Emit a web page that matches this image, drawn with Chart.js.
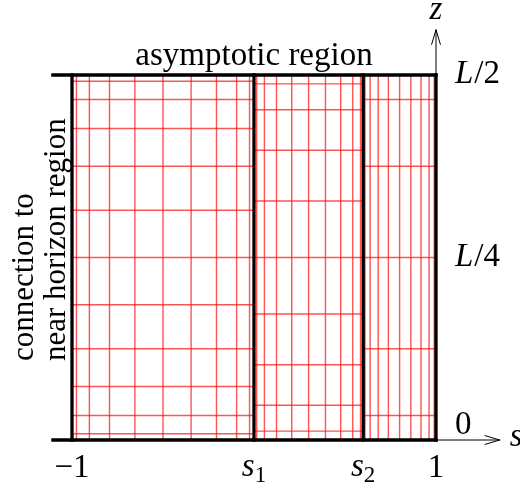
<!DOCTYPE html>
<html>
<head>
<meta charset="utf-8">
<script src="https://cdn.jsdelivr.net/npm/chart.js@4.4.1/dist/chart.umd.min.js"></script>
<style>
  html, body { margin: 0; padding: 0; background: #fff; }
  canvas { display: block; }
</style>
</head>
<body>
<canvas id="grid_chart" width="520" height="488"></canvas>
<script>
// block edges along s: -1, s1, s2, 1
const blockEdges = [-1, 0, 0.6, 1];
const sTickLabels = [['−1'], ['s', '1'], ['s', '2'], ['1']];
const zTicks = [0, 0.25, 0.5];
const zTickLabels = ['0', 'L/4', 'L/2'];

// red grid lines inside each block (s positions, z positions)
const block1S = [-0.9755, -0.9045, -0.7939, -0.6545, -0.5, -0.3455, -0.2061, -0.0955, -0.0245];
const block1Z = [0.0085, 0.0335, 0.0732, 0.125, 0.1853, 0.25, 0.3147, 0.375, 0.4268, 0.4665, 0.4915];
const block2S = [0.0147, 0.0573, 0.1237, 0.2073, 0.3, 0.3927, 0.4763, 0.5427, 0.5853];
const block2Z = [0.0122, 0.0477, 0.1031, 0.1727, 0.25, 0.3273, 0.3969, 0.4523, 0.4878];
const block3S = [0.6098, 0.6382, 0.6824, 0.7382, 0.8, 0.8618, 0.9176, 0.9618, 0.9902];
const block3Z = [0.0335, 0.125, 0.25, 0.375, 0.4665];

// where the black frame and the arrows start / end
const frameLeft = -1.105;
const sAxisEnd = 1.35;
const zAxisEnd = 0.562;

const blockS = [block1S, block2S, block3S];
const blockZ = [block1Z, block2Z, block3Z];

function vSegments(xs, zLo, zHi) {
    const pts = [];
    xs.forEach((x) => { pts.push({ x: x, y: zLo }, { x: x, y: zHi }, { x: x, y: null }); });
    return pts;
}

function hSegments(zs, sLo, sHi) {
    const pts = [];
    zs.forEach((z) => { pts.push({ x: sLo, y: z }, { x: sHi, y: z }, { x: null, y: null }); });
    return pts;
}

function lineSet(data, color, width, order) {
    return {
        data: data, borderColor: color, borderWidth: width, pointRadius: 0,
        tension: 0, spanGaps: false, clip: false, order: order, borderCapStyle: 'square'
    };
}

const RED = 'rgba(250,20,20,0.72)';
const datasets = [];
// black frame first so it is drawn on top
datasets.push(lineSet(hSegments([0, 0.5], frameLeft, 1), '#000', 3.3, 0));
datasets.push(lineSet(vSegments(blockEdges, 0, 0.5), '#000', 3.3, 0));
datasets.push(lineSet(hSegments([0], 1, sAxisEnd), '#000', 1, 0));
datasets.push(lineSet(vSegments([1], 0.5, zAxisEnd), '#000', 1, 0));
blockS.forEach((xs, i) => {
    datasets.push(lineSet(vSegments(xs, 0, 0.5), RED, 1.4, 1));
    datasets.push(lineSet(hSegments(blockZ[i], blockEdges[i], blockEdges[i + 1]), RED, 1.4, 1));
});

const SERIF = '"Liberation Serif", "DejaVu Serif", serif';
const FS = 33;

const labelsPlugin = {
    id: 'labels',
    afterDraw(chart) {
        const ctx = chart.ctx;
        const xs = chart.scales.x;
        const ys = chart.scales.y;
        const area = chart.chartArea;
        ctx.save();
        ctx.fillStyle = '#000';
        ctx.strokeStyle = '#000';
        ctx.textBaseline = 'alphabetic';

        // arrow heads
        ctx.lineWidth = 1;
        const ax = xs.getPixelForValue(sAxisEnd), ay = ys.getPixelForValue(0);
        ctx.beginPath();
        ctx.moveTo(ax - 15, ay - 4.5); ctx.lineTo(ax, ay); ctx.lineTo(ax - 15, ay + 4.5);
        ctx.stroke();
        const zx = xs.getPixelForValue(1), zy = ys.getPixelForValue(zAxisEnd);
        ctx.beginPath();
        ctx.moveTo(zx - 4.5, zy + 15); ctx.lineTo(zx, zy); ctx.lineTo(zx + 4.5, zy + 15);
        ctx.stroke();

        // title
        ctx.font = FS + 'px ' + SERIF;
        ctx.textAlign = 'center';
        ctx.fillText('asymptotic region', (area.left + area.right) / 2, area.top - 10);

        // left side label
        ctx.save();
        ctx.font = '31px ' + SERIF;
        ctx.translate(0, 361);
        ctx.rotate(-Math.PI / 2);
        ctx.textAlign = 'left';
        ctx.fillText('connection to', 0, 33);
        ctx.fillText('near horizon region', 0, 65);
        ctx.restore();

        // s tick labels
        const base = area.bottom + 37;
        blockEdges.forEach((v, i) => {
            const px = xs.getPixelForValue(v);
            const lab = sTickLabels[i];
            if (lab.length === 2) {
                ctx.font = 'italic ' + FS + 'px ' + SERIF;
                const w1 = ctx.measureText(lab[0]).width;
                ctx.font = '23px ' + SERIF;
                const w2 = ctx.measureText(lab[1]).width;
                const left = px - (w1 + w2) / 2;
                ctx.textAlign = 'left';
                ctx.font = 'italic ' + FS + 'px ' + SERIF;
                ctx.fillText(lab[0], left, base - 1);
                ctx.font = '23px ' + SERIF;
                ctx.fillText(lab[1], left + w1, base + 5);
            } else {
                ctx.font = FS + 'px ' + SERIF;
                ctx.textAlign = 'center';
                ctx.fillText(lab[0], px, base);
            }
        });

        // z tick labels
        ctx.textAlign = 'left';
        const lx = area.right + 19;
        zTicks.forEach((v, i) => {
            const py = ys.getPixelForValue(v);
            const lab = zTickLabels[i];
            if (lab[0] === 'L') {
                ctx.font = 'italic ' + FS + 'px ' + SERIF;
                ctx.fillText('L', lx, py + 8);
                const w = ctx.measureText('L').width;
                ctx.font = FS + 'px ' + SERIF;
                ctx.fillText(lab.slice(1), lx + w + 1, py + 8);
            } else {
                ctx.font = FS + 'px ' + SERIF;
                ctx.fillText(lab, lx, py - 6);
            }
        });

        // axis names
        ctx.font = 'italic ' + FS + 'px ' + SERIF;
        ctx.textAlign = 'center';
        ctx.fillText('z', zx, 19);
        ctx.textAlign = 'left';
        ctx.fillText('s', ax + 10, ay + 6);
        ctx.restore();
    }
};

new Chart(document.getElementById('grid_chart').getContext('2d'), {
    type: 'line',
    data: { datasets: datasets },
    options: {
        responsive: false,
        devicePixelRatio: 1,
        animation: false,
        layout: { padding: { left: 72, right: 84, top: 75, bottom: 48 } },
        plugins: { legend: { display: false }, tooltip: { enabled: false } },
        scales: {
            x: { type: 'linear', min: -1, max: 1, display: false },
            y: { type: 'linear', min: 0, max: 0.5, display: false }
        }
    },
    plugins: [labelsPlugin]
});
</script>
</body>
</html>
